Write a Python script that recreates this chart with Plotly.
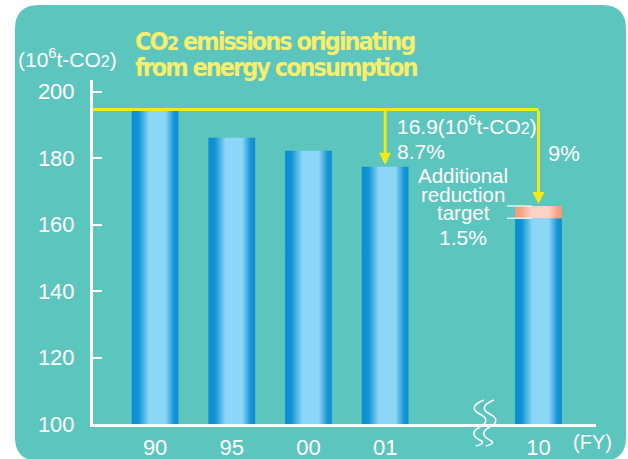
import plotly.graph_objects as go

# ---- data -------------------------------------------------------------
years = ["90", "95", "00", "01", "10"]
emissions = [194.3, 186.1, 182.2, 177.4, 161.9]      # 10^6 t-CO2
additional_target_top = 165.6                         # top of the extra-reduction segment (FY10)
fy1990_level = 194.6                                  # reference line drawn from the FY90 level
y_ticks = [100, 120, 140, 160, 180, 200]

# ---- styling ----------------------------------------------------------
TEAL = "#5CC5BE"
YELLOW = "#F0EB14"
TITLE_YELLOW = "#F7EE6C"
FONT = "Liberation Sans, Arial, sans-serif"
NARROW = "Liberation Sans Narrow, DejaVu Sans Condensed, sans-serif"
BLUE = [[0.0, "#0A8ED2"], [0.14, "#1093D5"], [0.37, "#8CD7F7"],
        [0.72, "#8CD7F7"], [0.9, "#1795D6"], [1.0, "#0A8ED2"]]
ORANGE = [[0.0, "#F39B78"], [0.12, "#F4A384"], [0.35, "#FBD3C5"],
          [0.72, "#FBD3C5"], [0.9, "#F5A486"], [1.0, "#F39B78"]]

W, H = 628, 459
L, R, T, B = 93, 596, 80, 424          # plot-area edges in pixels
X_RANGE = [-0.81, 5.75]
Y_RANGE = [100, 203.5]
BAR_W = 0.61


def px_x(px):
    return (px - L) / (R - L)


def px_y(py):
    return (B - py) / (B - T)


# category slots, leaving one empty slot before FY10 for the axis break
slots = [i if i < 4 else i + 1 for i in range(len(years))]

fig = go.Figure()


def gradient_bar(x, y0, y1, scale):
    h = BAR_W / 2
    fig.add_trace(go.Scatter(
        x=[x - h, x + h, x + h, x - h, x - h],
        y=[y0, y0, y1, y1, y0],
        mode="lines", fill="toself",
        fillgradient=dict(type="horizontal", colorscale=scale),
        line=dict(width=0), hoverinfo="skip", showlegend=False))


for s, v in zip(slots, emissions):
    gradient_bar(s, Y_RANGE[0], v, BLUE)
gradient_bar(slots[4], emissions[4], additional_target_top, ORANGE)

shapes = []
# rounded teal panel behind everything
x0, x1 = px_x(15), px_x(626)
y0, y1 = px_y(461), px_y(5)
rx, ry = 24 / (R - L), 24 / (B - T)
panel = (f"M{x0 + rx},{y1} L{x1 - rx},{y1} Q{x1},{y1} {x1},{y1 - ry} "
         f"L{x1},{y0 + ry} Q{x1},{y0} {x1 - rx},{y0} L{x0 + rx},{y0} "
         f"Q{x0},{y0} {x0},{y0 + ry} L{x0},{y1 - ry} Q{x0},{y1} {x0 + rx},{y1} Z")
shapes.append(dict(type="path", path=panel, xref="paper", yref="paper",
                   fillcolor=TEAL, line=dict(width=0), layer="below"))

# FY90 reference line
shapes.append(dict(type="line", xref="x", yref="y",
                   x0=X_RANGE[0], x1=slots[4], y0=fy1990_level, y1=fy1990_level,
                   line=dict(color=YELLOW, width=3)))

# leader lines marking the additional-reduction segment
for yv in (additional_target_top, emissions[4]):
    shapes.append(dict(type="line", xref="x", yref="y",
                       x0=slots[4] - 0.41, x1=slots[4] - 0.09, y0=yv, y1=yv,
                       line=dict(color="rgba(236,246,246,0.9)", width=1.5)))

# axis-break squiggles between FY01 and FY10 (pixel offsets -> axis units)
brk = slots[3] + 1.3
u = (X_RANGE[1] - X_RANGE[0]) / (R - L)
v = 1 / (B - T)
for dx in (-5, 5):
    cx = brk + dx * u
    a = 4 * u
    p = (f"M{cx + a},{24 * v} "
         f"C{cx - 2 * a},{19 * v} {cx - 2 * a},{14 * v} {cx},{10 * v} "
         f"C{cx + 2 * a},{6 * v} {cx + 2 * a},{1 * v} {cx},{-3 * v} "
         f"C{cx - 2 * a},{-7 * v} {cx - 2 * a},{-12 * v} {cx},{-16 * v} "
         f"C{cx + a},{-18 * v} {cx + a},{-20 * v} {cx - a},{-22 * v}")
    shapes.append(dict(type="path", path=p, xref="x", yref="paper",
                       line=dict(color="white", width=1.5)))

fig.update_layout(shapes=shapes)

# arrows from the FY90 line down to FY01 and to the FY10 target
for s, tip in ((slots[3], emissions[3]), (slots[4], additional_target_top)):
    fig.add_annotation(x=s, y=tip, ax=s, ay=fy1990_level,
                       xref="x", yref="y", axref="x", ayref="y",
                       text="", showarrow=True, arrowhead=2, arrowsize=0.8,
                       arrowwidth=3, arrowcolor=YELLOW, standoff=2)


def label(text, x, y, size, xref="x", yref="y", xanchor="left", color="white",
          family=FONT, weight="normal"):
    fig.add_annotation(text=text, x=x, y=y, xref=xref, yref=yref,
                       xanchor=xanchor, yanchor="middle", showarrow=False,
                       font=dict(size=size, color=color, family=family,
                                 weight=weight))


label("16.9(10<sup>6</sup>t-CO<span style='font-size:16px'>2</span>)",
      3.13, 189.9, 21)
label("8.7%", 3.13, 182.0, 21)
label("9%", 5.1, 181.5, 22)
label("Additional", 4.02, 174.9, 20.5, xanchor="center")
label("reduction", 4.02, 169.1, 20.5, xanchor="center")
label("target", 4.02, 163.7, 20.5, xanchor="center")
label("1.5%", 4.02, 156.1, 21, xanchor="center")

# titles and units (tightened letter spacing for the condensed face)
TS = "letter-spacing:-2px"
label(f"<span style='{TS}'>CO<span style='font-size:20px'>2</span> "
      "emissions originating</span>",
      px_x(133), px_y(41), 25, xref="paper", yref="paper",
      color=TITLE_YELLOW, family=NARROW, weight="bold")
label(f"<span style='{TS}'>from energy consumption</span>",
      px_x(133), px_y(68), 25,
      xref="paper", yref="paper", color=TITLE_YELLOW, family=NARROW,
      weight="bold")
label("(10<sup>6</sup>t-CO<span style='font-size:16px'>2</span>)",
      px_x(16), px_y(58), 21, xref="paper", yref="paper")
label("(FY)", px_x(592), px_y(442), 20, xref="paper", yref="paper",
      xanchor="center")

fig.update_layout(
    width=W, height=H,
    margin=dict(l=L, r=W - R, t=T, b=H - B, pad=0, autoexpand=False),
    paper_bgcolor="white", plot_bgcolor="rgba(0,0,0,0)",
    font=dict(family=FONT, color="white"),
    xaxis=dict(range=X_RANGE, tickmode="array", tickvals=slots, ticktext=years,
               showgrid=False, zeroline=False, showline=True, linecolor="white",
               linewidth=3, ticks="", tickfont=dict(size=22, color="white"),
               ticklabelstandoff=2, automargin=False, fixedrange=True),
    yaxis=dict(range=Y_RANGE, tickmode="array", tickvals=y_ticks,
               showgrid=False, zeroline=False, showline=True, linecolor="white",
               linewidth=3, ticks="inside", ticklen=9, tickwidth=1.5,
               tickcolor="white", tickfont=dict(size=22, color="white"),
               ticklabelstandoff=11, automargin=False, fixedrange=True),
    showlegend=False,
)

fig.write_html("out.html")
